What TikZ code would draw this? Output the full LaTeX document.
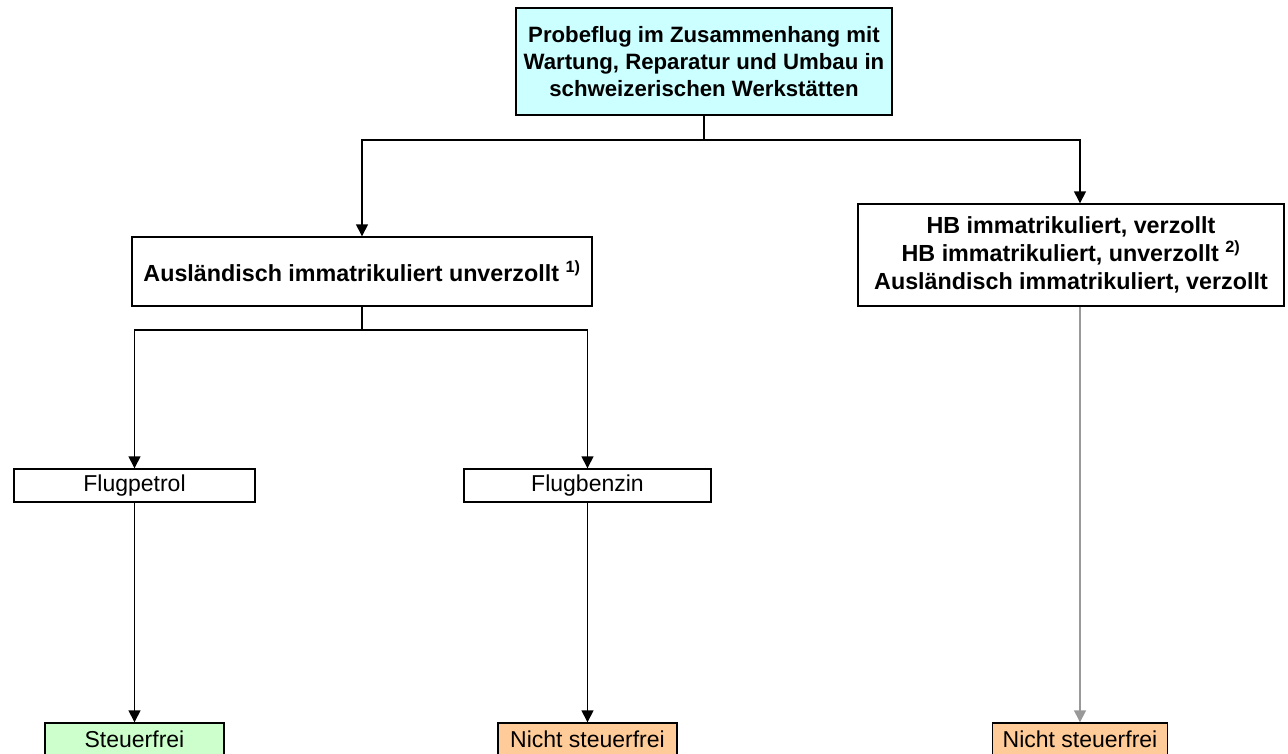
\documentclass[tikz,border=0pt]{standalone}
\usepackage{fontspec}
\setmainfont{Liberation Sans}
\usetikzlibrary{arrows.meta,positioning}
\usepackage{xcolor}
\definecolor{kopfblau}{HTML}{CCFFFF}
\definecolor{freigruen}{HTML}{CCFFCC}
\definecolor{zollorange}{HTML}{FFCC99}

\begin{document}
\begin{tikzpicture}[x=1pt,y=-1pt,
    box/.style={draw,line width=1.4pt,rectangle,inner sep=0pt,align=center},
    fett/.style={box,font=\fontsize{23.3}{28}\selectfont\bfseries},
    sorte/.style={box,minimum height=33pt,font=\fontsize{23}{26}\selectfont},
    ergebnis/.style={box,minimum height=32pt,font=\fontsize{23}{26}\selectfont},
    linie/.style={line width=1.4pt},
    pfeil/.style={linie,-{Triangle[length=12pt,width=12pt]}},
    grau/.style={pfeil,draw=black!40}]
      \useasboundingbox (0,0) rectangle (1288,753);
      \node[fett,fill=kopfblau,minimum width=376pt,minimum height=107pt,
        font=\fontsize{22.2}{27}\selectfont\bfseries] (probe) at (704,61.5)
        {Probeflug im Zusammenhang mit\\Wartung, Reparatur und Umbau in\\schweizerischen Werkstätten};
      \node[fett,minimum width=460pt,minimum height=69pt] (ausl) at (362,271.5)
        {Ausländisch immatrikuliert unverzollt \textsuperscript{1)}};
      \node[fett,minimum width=426pt,minimum height=102pt] (hb) at (1071,255)
        {HB immatrikuliert, verzollt\\HB immatrikuliert, unverzollt \textsuperscript{2)}\\Ausländisch immatrikuliert, verzollt};
      \node[sorte,minimum width=241pt] (petrol) at (134.5,485.5) {Flugpetrol};
      \node[sorte,minimum width=247pt] (benzin) at (587.5,485.5) {Flugbenzin};
      \node[ergebnis,fill=freigruen,minimum width=179pt] (frei) at (134.5,739) {Steuerfrei};
      \node[ergebnis,fill=zollorange,minimum width=179pt] (nicht1) at (587.5,739) {Nicht steuerfrei};
      \node[ergebnis,fill=zollorange,minimum width=175pt] (nicht2) at (1080,739) {Nicht steuerfrei};
      \coordinate (gabel) at (704,140);
      \coordinate (gabel2) at (362,330);
      \draw[linie] (probe.south) -- (gabel);
      \draw[pfeil] (gabel) -| (ausl.north);
      \draw[pfeil] (gabel) -| (nicht2.north |- hb.north);
      \draw[linie] (ausl.south) -- (gabel2);
      \draw[pfeil] (gabel2) -| (petrol.north);
      \draw[pfeil] (gabel2) -| (benzin.north);
      \draw[pfeil] (petrol) -- (frei);
      \draw[pfeil] (benzin) -- (nicht1);
      \draw[grau] (nicht2.north |- hb.south) -- (nicht2.north);
\end{tikzpicture}
\end{document}
